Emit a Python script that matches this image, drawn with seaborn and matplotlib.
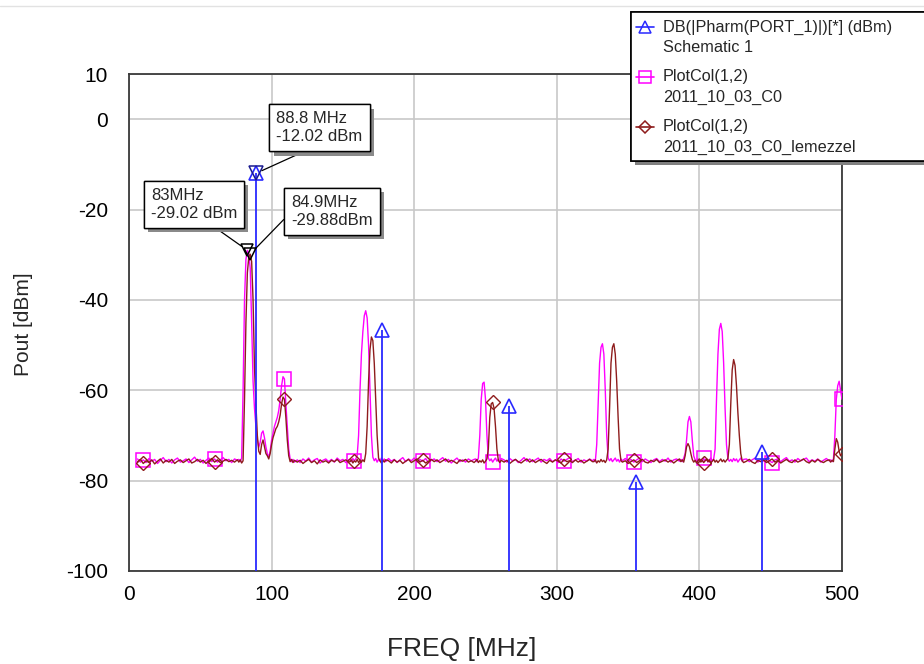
import numpy as np
import matplotlib
matplotlib.use("Agg")
import matplotlib.pyplot as plt
import matplotlib.patheffects as pe
from matplotlib.lines import Line2D
from matplotlib.patches import Rectangle
import seaborn as sns

sns.set_style("white")
plt.rcParams["font.family"] = ["Liberation Sans", "DejaVu Sans"]

# ---------------- data ----------------
# measurement sweep grid (MHz): (start, stop, step)
FREQ_SEGMENTS = [(6, 76, 2), (77, 116, 1), (118, 154, 2), (155, 180, 1),
                 (182, 242, 2), (243, 261, 1), (263, 325, 2), (326, 346, 1),
                 (348, 386, 2), (387, 431, 1), (433, 491, 2), (492, 500, 1)]
freq_mhz = np.concatenate([np.arange(a, b + 0.5, s) for a, b, s in FREQ_SEGMENTS])

# PlotCol(1,2) 2011_10_03_C0  (dBm)
pout_c0 = [
    # 6..76 step 2
    -75.2, -75.9, -75.4, -76.0, -75.1, -75.7, -75.3, -76.2, -75.5, -74.9, -75.8, -75.3,
    -76.1, -75.4, -75.0, -75.9, -75.6, -75.2, -76.0, -75.4, -74.8, -75.7, -75.3, -76.1,
    -75.5, -75.0, -75.8, -75.2, -75.9, -75.4, -74.9, -75.6, -75.3, -76.0, -75.2, -75.5,
    # 77..116
    -75.3, -75.8, -75.0, -60.0, -40.0, -31.0, -29.02, -29.8, -33.0, -45.0,
    -58.0, -64.0, -68.0, -71.0, -72.6, -71.5, -69.5, -69.0, -70.5, -72.5,
    -74.0, -74.8, -73.5, -71.0, -69.5, -68.0, -67.0, -66.0, -64.5, -62.0,
    -59.0, -57.0, -57.5, -63.0, -68.0, -73.0, -75.2, -75.8, -75.3, -75.9,
    # 118..154 step 2
    -75.4, -76.0, -75.2, -75.7, -75.0, -75.9, -75.4, -75.1, -76.1, -75.5,
    -75.2, -75.8, -75.3, -75.9, -75.0, -75.6, -75.3, -76.0, -75.4,
    # 155..180
    -75.3, -75.8, -75.1, -75.6, -75.2, -74.5, -70.0, -60.0, -52.0, -47.0,
    -43.5, -42.4, -44.0, -50.0, -60.0, -70.0, -74.8, -75.6, -75.1, -75.9,
    -75.3, -75.7, -75.0, -75.6, -75.2, -75.8,
    # 182..242 step 2
    -75.1, -75.7, -75.3, -76.0, -75.4, -74.9, -75.8, -75.2, -75.6, -75.0,
    -75.9, -75.3, -75.7, -75.1, -76.0, -75.5, -75.2, -75.8, -75.4, -74.9,
    -75.7, -75.3, -76.1, -75.5, -75.0, -75.8, -75.4, -75.9, -75.2, -75.6, -75.3,
    # 243..261
    -75.2, -75.8, -75.0, -70.0, -62.0, -58.5, -58.2, -62.0, -70.0, -75.0,
    -75.6, -75.2, -75.9, -75.4, -75.0, -75.7, -75.3, -75.8, -75.1,
    # 263..325 step 2
    -75.4, -75.9, -75.1, -75.6, -75.3, -76.0, -75.5, -74.9, -75.7, -75.2,
    -75.8, -75.4, -75.0, -75.9, -75.3, -75.6, -75.1, -75.8, -75.4, -76.0,
    -75.2, -75.7, -75.3, -74.9, -75.8, -75.5, -75.1, -75.9, -75.4, -75.7, -75.2, -75.6,
    # 326..346
    -75.3, -75.8, -72.0, -63.0, -54.0, -50.5, -49.7, -52.0, -60.0, -70.0,
    -75.0, -75.6, -75.1, -75.8, -75.4, -75.0, -75.7, -75.3, -75.9, -75.2, -75.6,
    # 348..386 step 2
    -75.1, -75.7, -75.3, -75.9, -75.4, -75.0, -75.8, -75.2, -75.6, -76.0,
    -75.4, -75.1, -75.8, -75.3, -75.7, -75.0, -75.9, -75.4, -75.2, -75.7,
    # 387..431
    -75.3, -75.8, -75.0, -74.0, -71.0, -67.0, -65.8, -67.0, -71.0, -74.5,
    -75.4, -75.9, -75.2, -75.7, -75.3, -75.8, -75.1, -75.6, -75.2, -75.9,
    -75.4, -75.0, -75.7, -75.2, -73.0, -62.0, -52.0, -46.5, -45.2, -47.0,
    -54.0, -64.0, -72.0, -75.2, -75.7, -75.3, -75.8, -75.1, -75.6, -75.2,
    -75.9, -75.4, -75.0, -75.7, -75.3,
    # 433..491 step 2
    -75.2, -75.8, -75.4, -75.0, -75.9, -75.3, -75.7, -75.1, -75.6, -76.0,
    -75.4, -75.2, -75.8, -75.3, -74.9, -75.7, -75.4, -75.9, -75.1, -75.6,
    -75.3, -75.0, -75.8, -75.4, -75.7, -75.2, -75.9, -75.5, -75.1, -75.6,
    # 492..500
    -75.4, -75.8, -75.2, -70.0, -62.0, -59.0, -58.0, -60.0, -62.0,
]

# PlotCol(1,2) 2011_10_03_C0_lemezzel  (dBm)
pout_lemezzel = [
    # 6..76 step 2
    -75.8, -75.3, -76.2, -75.6, -76.0, -75.4, -76.3, -75.7, -75.2, -76.1, -75.5, -75.9,
    -75.3, -76.2, -75.7, -75.4, -76.0, -75.6, -75.2, -76.1, -75.8, -75.3, -75.9, -75.5,
    -76.2, -75.6, -75.1, -75.9, -75.4, -76.0, -75.7, -75.3, -75.8, -75.5, -75.9, -75.4,
    # 77..116
    -75.9, -75.4, -76.1, -75.6, -62.0, -45.0, -34.0, -30.5, -29.88, -31.5,
    -40.0, -55.0, -63.0, -70.0, -73.5, -74.2, -72.0, -71.0, -72.5, -74.0,
    -74.5, -75.2, -74.0, -72.0, -70.5, -69.5, -68.5, -68.0, -67.0, -65.5,
    -63.0, -61.5, -62.0, -66.0, -71.0, -74.5, -75.8, -75.3, -76.0, -75.5,
    # 118..154 step 2
    -75.9, -75.5, -76.2, -75.7, -75.3, -76.0, -75.6, -76.3, -75.4, -75.9,
    -75.6, -76.1, -75.5, -75.8, -75.3, -76.0, -75.7, -75.4, -75.9,
    # 155..180
    -75.8, -75.4, -76.1, -75.6, -75.9, -75.3, -76.0, -75.5, -75.9, -75.4,
    -75.8, -74.0, -68.0, -58.0, -51.0, -48.2, -49.0, -54.0, -62.0, -70.0,
    -75.0, -75.6, -76.1, -75.5, -75.9, -75.4,
    # 182..242 step 2
    -75.6, -76.1, -75.4, -75.9, -75.5, -76.2, -75.7, -75.3, -76.0, -75.6,
    -75.2, -75.9, -75.5, -76.1, -75.7, -75.3, -75.8, -75.4, -76.0, -75.6,
    -75.2, -75.9, -75.5, -75.8, -76.2, -75.4, -75.7, -75.3, -75.9, -75.6, -76.0,
    # 243..261
    -75.7, -75.3, -76.0, -75.6, -75.9, -75.4, -76.1, -75.7, -75.2, -73.0,
    -66.0, -63.0, -62.7, -64.0, -68.0, -73.0, -75.5, -76.0, -75.5,
    # 263..325 step 2
    -75.9, -75.5, -76.2, -75.7, -75.3, -75.8, -76.1, -75.6, -75.2, -75.9,
    -75.4, -76.0, -75.6, -75.3, -75.8, -76.2, -75.5, -75.9, -75.4, -75.7,
    -76.1, -75.3, -75.8, -75.6, -76.0, -75.4, -75.9, -75.5, -76.1, -75.7, -75.3, -75.8,
    # 326..346
    -75.8, -75.4, -76.1, -75.6, -75.9, -75.3, -75.8, -75.5, -76.0, -75.4,
    -73.0, -64.0, -54.0, -50.5, -49.7, -52.0, -58.0, -66.0, -73.0, -75.6, -75.9,
    # 348..386 step 2
    -75.6, -76.2, -75.8, -75.4, -76.0, -75.6, -75.3, -75.9, -76.1, -75.5,
    -75.8, -75.3, -76.0, -75.7, -75.4, -75.9, -75.5, -76.1, -75.6, -75.2,
    # 387..431
    -75.8, -75.4, -75.9, -74.5, -72.5, -71.8, -72.5, -74.0, -75.3, -75.9,
    -75.5, -76.1, -75.6, -75.2, -75.9, -75.5, -76.0, -75.6, -75.3, -75.8,
    -75.4, -76.1, -75.7, -75.3, -75.9, -75.5, -76.0, -75.6, -75.2, -75.8,
    -75.4, -75.9, -75.5, -75.1, -72.0, -63.0, -55.5, -53.2, -54.5, -59.0,
    -65.0, -70.0, -74.0, -75.6, -76.0,
    # 433..491 step 2
    -75.7, -75.3, -75.9, -76.2, -75.5, -75.8, -75.4, -76.0, -75.6, -75.2,
    -75.9, -75.5, -76.1, -75.7, -75.3, -75.8, -76.0, -75.4, -75.9, -75.6,
    -75.2, -75.8, -76.1, -75.5, -75.9, -75.3, -75.7, -76.0, -75.6, -75.4,
    # 492..500
    -75.9, -75.5, -75.8, -73.0, -70.7, -71.5, -73.5, -74.5, -74.0,
]

# DB(|Pharm(PORT_1)|)[*] harmonic balance result
harm_freq = [88.8, 177.6, 266.4, 355.2, 444.0]
harm_pout = [-12.02, -46.6, -63.4, -80.4, -73.6]

# symbol positions along the measured traces (MHz)
symbol_freq = [11, 60, 109, 158, 207, 255, 305, 354, 403, 452, 500]

# marker readouts
readout_freq = [88.8, 83.0, 84.9]
readout_pout = [-12.02, -29.02, -29.88]
readout_text = ["88.8 MHz\n-12.02 dBm", "83MHz\n-29.02 dBm", "84.9MHz\n-29.88dBm"]

x_ticks = [0, 100, 200, 300, 400, 500]
x_ticklabels = ["0", "100", "200", "300", "400", "500"]
y_ticks = [10, 0, -20, -40, -60, -80, -100]
y_ticklabels = ["10", "0", "-20", "-40", "-60", "-80", "-100"]

legend_lines = [("DB(|Pharm(PORT_1)|)[*] (dBm)", "Schematic 1"),
                ("PlotCol(1,2)", "2011_10_03_C0"),
                ("PlotCol(1,2)", "2011_10_03_C0_lemezzel")]

# ---------------- style ----------------
BLUE = "#2a2aff"
PINK = "#ff00ff"
BROWN = "#8e1c1c"
GRID = "#c8c8c8"

W, H = 924, 664
fig = plt.figure(figsize=(W / 100, H / 100), dpi=100)
ax = fig.add_axes([129 / W, 1 - 571 / H, 713 / W, 497 / H])

idx = [int(np.abs(freq_mhz - f).argmin()) for f in symbol_freq]

sns.lineplot(x=freq_mhz, y=pout_c0, ax=ax, color=PINK, lw=1.0, sort=False,
             estimator=None, errorbar=None, legend=False, zorder=3,
             marker="s", ms=10, mfc="none", mec=PINK, mew=1.1, markevery=idx)
sns.lineplot(x=freq_mhz, y=pout_lemezzel, ax=ax, color=BROWN, lw=1.0, sort=False,
             estimator=None, errorbar=None, legend=False, zorder=3.2,
             marker="D", ms=7, mfc="none", mec=BROWN, mew=1.0, markevery=idx)

# harmonic-balance stems
ax.vlines(harm_freq, -100, harm_pout, color=BLUE, lw=1.3, zorder=4)
ax.plot(harm_freq, harm_pout, ls="none", marker="^", ms=10, mfc="none",
        mec=BLUE, mew=1.2, zorder=5)

# marker readout symbols
ax.plot(readout_freq[:1], readout_pout[:1], ls="none", marker="v", ms=10,
        mfc="none", mec="#1a1a90", mew=1.1, zorder=6)
ax.plot(readout_freq[1:], readout_pout[1:], ls="none", marker="v", ms=9,
        mfc="none", mec="black", mew=1.1, zorder=6)

ann_box_freq = [133.6, 45.6, 142.4]
ann_box_pout = [-1.95, -18.8, -20.5]
ann_relpos = [(0.5, 0.0), (0.63, 0.0), (0.0, 0.5)]
for f, p, txt, bf, bp, rp in zip(readout_freq, readout_pout, readout_text,
                                  ann_box_freq, ann_box_pout, ann_relpos):
    t = ax.annotate(txt, xy=(f, p), xytext=(bf, bp), textcoords="data",
                    ha="center", va="center", multialignment="left",
                    fontsize=12, linespacing=1.25, zorder=8,
                    bbox=dict(boxstyle="square,pad=0.42", fc="white", ec="black", lw=1.0),
                    arrowprops=dict(arrowstyle="-", color="black", lw=0.9,
                                    relpos=rp, shrinkA=0, shrinkB=5))
    t.get_bbox_patch().set_path_effects(
        [pe.withSimplePatchShadow(offset=(3, -3), shadow_rgbFace="#8a8a8a", alpha=1.0),
         pe.Normal()])

ax.set_xlim(0, 500)
ax.set_ylim(-100, 10)
ax.set_xticks(x_ticks)
ax.set_xticklabels(x_ticklabels)
ax.set_yticks(y_ticks)
ax.set_yticklabels(y_ticklabels)
ax.tick_params(axis="both", length=0, labelsize=15, colors="black")
ax.tick_params(axis="x", pad=10)
ax.tick_params(axis="y", pad=15)
ax.grid(True, color=GRID, lw=1.2)
ax.set_axisbelow(True)
for s in ax.spines.values():
    s.set_color("#3a3a3a")
    s.set_linewidth(1.3)
    s.set_visible(True)

ax.set_xlabel("FREQ [MHz]", fontsize=19)
ax.xaxis.set_label_coords((461.5 - 129) / 713, (571 - 637) / 497)
ax.set_ylabel("Pout [dBm]", fontsize=15)
ax.yaxis.set_label_coords((33 - 129) / 713, 0.497)

# window edge line at very top
fig.add_artist(Line2D([0, 1], [1 - 6 / H] * 2, color="#e2e2e2", lw=1.0,
                      transform=fig.transFigure))

# legend box (AWR style)
leg = Rectangle((631 / W, 1 - 161 / H), 0.5, 149 / H, transform=fig.transFigure,
                fc="white", ec="black", lw=1.2, zorder=20)
leg.set_path_effects([pe.withSimplePatchShadow(offset=(3, -3), shadow_rgbFace="#808080",
                                                alpha=1.0), pe.Normal()])
fig.add_artist(leg)
leg_styles = [(BLUE, "^", 8), (PINK, "s", 8), (BROWN, "D", 6)]
for i, ((l1, l2), (c, m, ms)) in enumerate(zip(legend_lines, leg_styles)):
    y1 = 1 - (27 + 50 * i) / H
    y2 = 1 - (47 + 50 * i) / H
    fig.add_artist(Line2D([636 / W, 654 / W], [y1, y1], color=c, lw=1.2,
                          transform=fig.transFigure, zorder=21))
    fig.add_artist(Line2D([645 / W], [y1], ls="none", marker=m, ms=ms, mfc="none",
                          mec=c, mew=1.1, transform=fig.transFigure, zorder=21))
    fig.text(663 / W, y1, l1, fontsize=11.7, va="center", ha="left", zorder=22)
    fig.text(663 / W, y2, l2, fontsize=11.7, va="center", ha="left", zorder=22)

fig.savefig("out.png", dpi=100)
